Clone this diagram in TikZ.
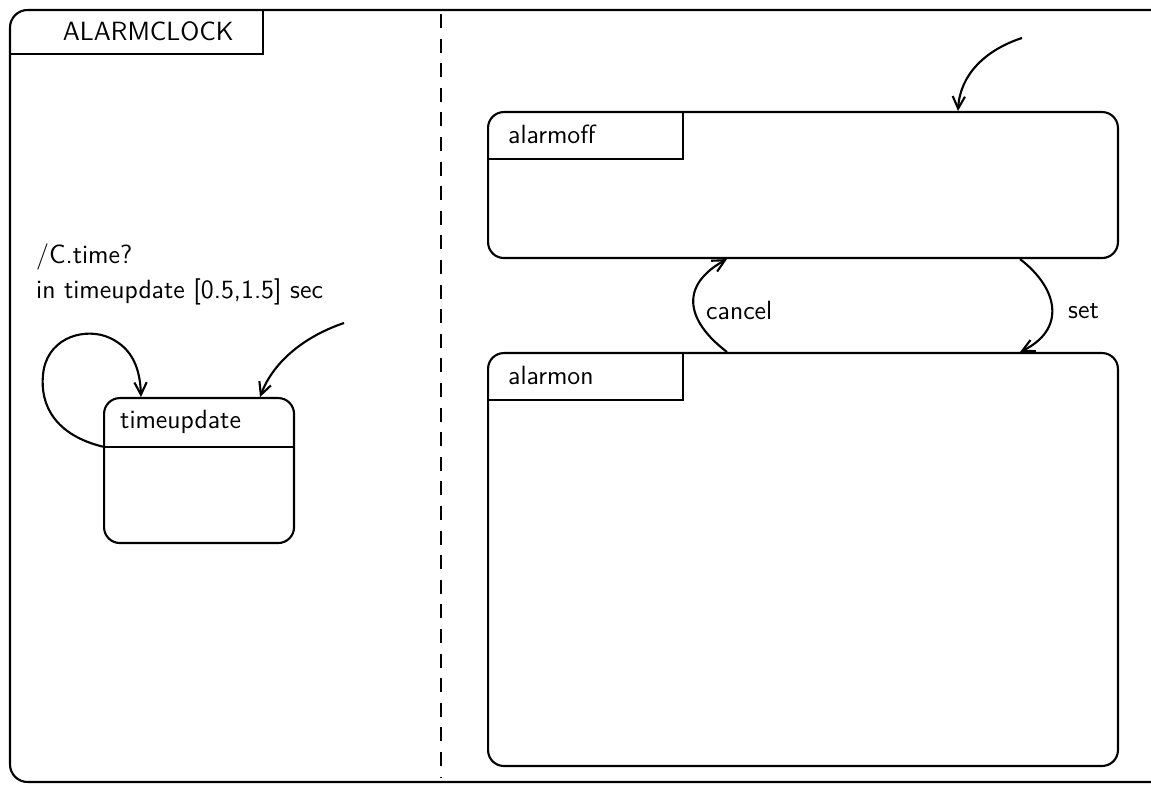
\documentclass[tikz,border=0pt]{standalone}
\usetikzlibrary{arrows.meta,calc}
\begin{document}
\begin{tikzpicture}[x=0.02cm,y=-0.02cm,
    font=\sffamily\fontsize{15}{18}\selectfont,
    state/.style={draw,line width=1.2pt,rounded corners=9pt,anchor=north west,inner sep=0pt},
    tab/.style={anchor=north west,inner sep=0pt,minimum width=3.9cm,minimum height=0.94cm},
    trans/.style={line width=1.2pt,-{Straight Barb[length=7pt,width=7pt]}}]
    \useasboundingbox (0,0) rectangle (1151,786);

    %ALARMCLOCK
    \draw [line width=1.2pt,rounded corners=10pt] (1151,10) -- (10,10) -- (10,782) -- (1151,782);
    \node [tab,minimum width=5.04cm,minimum height=0.86cm] (clocktab) at (10,10) {};
    \node (clockname) at ([xshift=0.24cm]clocktab.center) {ALARMCLOCK};
    \draw [line width=1.2pt] (clocktab.north east) |- (clocktab.south west);
    \draw [line width=1.2pt,dash pattern=on 8pt off 6pt] (441,14) -- (441,778);

    %timeupdate
    \node [state,minimum width=3.8cm,minimum height=2.9cm] (timeupdate) at (103,397) {};
    \node [tab,minimum width=3.8cm,minimum height=0.98cm] (tuhead) at (timeupdate.north west) {};
    \draw [line width=1.2pt] (tuhead.south west) -- (tuhead.south east);
    \node [anchor=west] (tuname) at ([xshift=0.22cm]tuhead.west) {timeupdate};
    \node [anchor=west] (tuaction) at (30,257) {/C.time?};
    \node [anchor=west] (tuguard) at (30,292) {in timeupdate [0.5,1.5] sec};
    \coordinate (tuentry) at (344,323);
    \draw [trans] (tuentry) .. controls (300,338) and (272,365) .. ($(timeupdate.north west)+(157,0)$);
    \draw [trans] (tuhead.south west) .. controls (55,435) and (40,405) .. (43,375)
        .. controls (46,340) and (80,328) .. (105,336)
        .. controls (130,345) and (140,365) .. ($(timeupdate.north west)+(38,0)$);

    %alarmoff
    \node [state,minimum width=12.6cm,minimum height=2.92cm] (alarmoff) at (487,111) {};
    \node [tab] (offtab) at (alarmoff.north west) {};
    \draw [line width=1.2pt] (offtab.north east) |- (offtab.south west);
    \node [anchor=west] (offname) at ([xshift=0.3cm]offtab.west) {alarmoff};
    \coordinate (offentry) at (1022,38);
    \draw [trans] (offentry) .. controls (985,50) and (960,75) .. ($(alarmoff.north west)+(471,0)$);

    %alarmon
    \node [state,minimum width=12.6cm,minimum height=8.26cm] (alarmon) at (487,352) {};
    \node [tab] (ontab) at (alarmon.north west) {};
    \draw [line width=1.2pt] (ontab.north east) |- (ontab.south west);
    \node [anchor=west] (onname) at ([xshift=0.3cm]ontab.west) {alarmon};

    %cancel, set
    \draw [trans] ($(alarmon.north west)+(240,0)$) .. controls (685,320) and (680,285)
        .. ($(alarmoff.south west)+(240,0)$);
    \node [anchor=west] (cancellabel) at (700,310) {cancel};
    \draw [trans] ($(alarmoff.south west)+(533,0)$) .. controls (1060,290) and (1065,330)
        .. ($(alarmon.north west)+(533,0)$);
    \node [anchor=west] (setlabel) at (1062,311) {set};
\end{tikzpicture}
\end{document}
